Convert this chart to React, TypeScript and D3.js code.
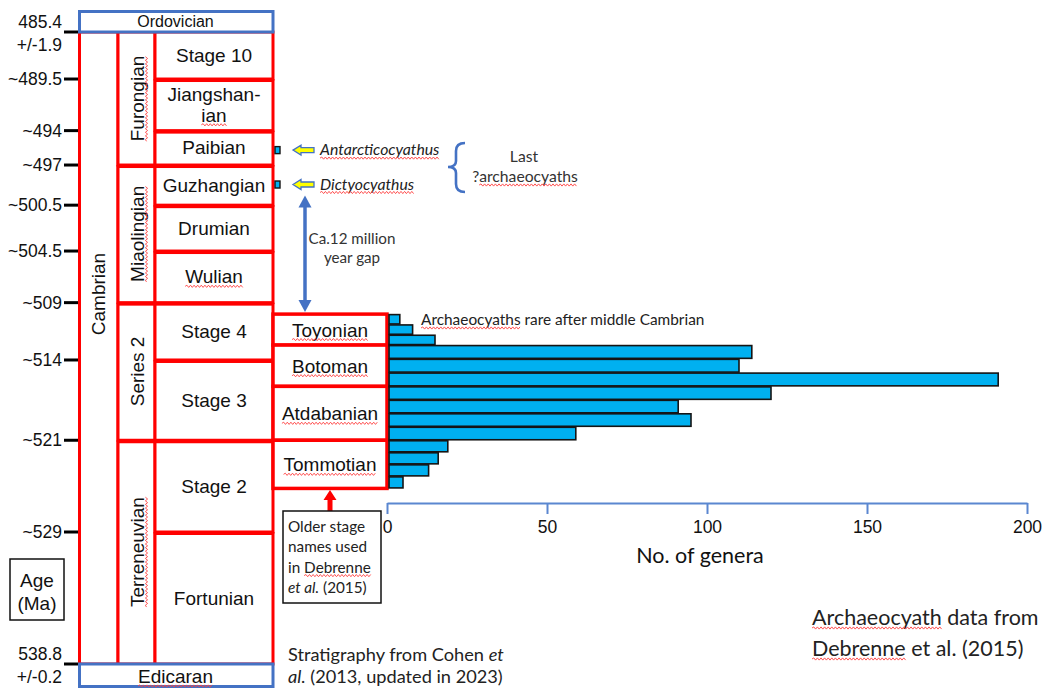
import React, { useEffect, useRef } from "react";
import * as d3 from "d3";

const W = 1045;
const H = 691;

// ---- Chronostratigraphy (ages in Ma) ----
const ageTicks = [485.4, 489.5, 494, 497, 500.5, 504.5, 509, 514, 521, 529, 538.8];
const ageTickLabels = [
  ["485.4", "+/-1.9"], ["~489.5"], ["~494"], ["~497"], ["~500.5"], ["~504.5"],
  ["~509"], ["~514"], ["~521"], ["~529"], ["538.8", "+/-0.2"],
];

const stageNames = ["Stage 10", "Jiangshan-|ian", "Paibian", "Guzhangian", "Drumian", "Wulian", "Stage 4", "Stage 3", "Stage 2", "Fortunian"];
const stageTops = [485.4, 489.5, 494, 497, 500.5, 504.5, 509, 514, 521, 529];
const stageBases = [489.5, 494, 497, 500.5, 504.5, 509, 514, 521, 529, 538.8];
const stageSpell = [false, true, false, false, false, true, false, false, false, false];

const seriesNames = ["Furongian", "Miaolingian", "Series 2", "Terreneuvian"];
const seriesTops = [485.4, 497, 509, 521];
const seriesBases = [497, 509, 521, 538.8];
const seriesSpell = [true, true, false, true];

const systemName = "Cambrian";
const systemTop = 485.4;
const systemBase = 538.8;

// ---- Older stage names (Debrenne et al. 2015) and genera counts ----
const olderStageNames = ["Toyonian", "Botoman", "Atdabanian", "Tommotian"];
const olderStageTops = [510, 512.7, 516.3, 521];
const olderStageBases = [512.7, 516.3, 521, 525.2];
const olderStageBins = [3, 3, 4, 4];
const genera = [4, 8, 15, 114, 110, 191, 120, 91, 95, 59, 19, 16, 13, 5];

// ---- Last occurrences ----
const lastTaxa = ["Antarcticocyathus", "Dictyocyathus"];
const lastTaxaAges = [495.7, 498.7];
const lastTaxaCounts = [1, 1];

const xTicks = [0, 50, 100, 150, 200];

const ARIAL = "'Liberation Sans', Arial, sans-serif";
const CAL = "Lato, 'Open Sans', sans-serif";
const RED = "#FF0000";
const BLUE = "#4472C4";
const BAR = "#00B0F0";

function wavy(g: any, x0: number, x1: number, y: number) {
  const step = 1.8;
  let d = `M${x0},${y}`;
  let up = true;
  for (let x = x0 + step; x <= x1; x += step) {
    d += `L${x.toFixed(1)},${(y + (up ? -1.1 : 1.1)).toFixed(1)}`;
    up = !up;
  }
  g.append("path").attr("d", d).attr("fill", "none").attr("stroke", "#ff4040").attr("stroke-width", 0.9);
}

function squiggle(g: any, textSel: any, from: number, to: number, dy = 3) {
  const node = textSel.node() as SVGTextElement;
  try {
    const s = node.getStartPositionOfChar(from);
    const e = node.getEndPositionOfChar(to - 1);
    wavy(g, s.x, e.x, s.y + dy);
  } catch (err) {
    /* ignore */
  }
}

export default function App() {
  const ref = useRef<SVGSVGElement>(null);

  useEffect(() => {
    const svg = d3.select(ref.current);
    svg.selectAll("*").remove();

    const y = d3.scaleLinear().domain([485.4, 529, 538.8]).range([32, 532, 664]);
    const x = d3.scaleLinear().domain([0, 200]).range([387, 1027]);

    const eonX0 = 78, seriesX0 = 118, stageX0 = 155, stageX1 = 273;
    const olderX1 = x(0);

    const g = svg.append("g");

    // Age ticks and labels
    ageTicks.forEach((a, i) => {
      const yy = y(a);
      g.append("line").attr("x1", 64).attr("x2", eonX0).attr("y1", yy).attr("y2", yy)
        .attr("stroke", "#000").attr("stroke-width", 3);
      const lines = ageTickLabels[i];
      const fs = 17.5;
      if (lines.length === 1) {
        g.append("text").attr("x", 62).attr("y", yy + 6).attr("text-anchor", "end")
          .attr("font-family", ARIAL).attr("font-size", fs).attr("fill", "#111").text(lines[0]);
      } else {
        g.append("text").attr("x", 62).attr("y", yy - 4).attr("text-anchor", "end")
          .attr("font-family", ARIAL).attr("font-size", fs).attr("fill", "#111").text(lines[0]);
        g.append("text").attr("x", 62).attr("y", yy + 19).attr("text-anchor", "end")
          .attr("font-family", ARIAL).attr("font-size", fs).attr("fill", "#111").text(lines[1]);
      }
    });

    // Age (Ma) box
    g.append("rect").attr("x", 10).attr("y", 559).attr("width", 54).attr("height", 61)
      .attr("fill", "none").attr("stroke", "#111").attr("stroke-width", 1.5);
    g.append("text").attr("x", 37).attr("y", 587).attr("text-anchor", "middle")
      .attr("font-family", ARIAL).attr("font-size", 19).attr("fill", "#111").text("Age");
    g.append("text").attr("x", 37).attr("y", 610).attr("text-anchor", "middle")
      .attr("font-family", ARIAL).attr("font-size", 19).attr("fill", "#111").text("(Ma)");

    // System box
    g.append("rect").attr("x", eonX0 + 1.5).attr("y", y(systemTop)).attr("width", seriesX0 - eonX0 - 1.5)
      .attr("height", y(systemBase) - y(systemTop)).attr("fill", "#fff").attr("stroke", RED).attr("stroke-width", 3);
    const sysG = g.append("g").attr("transform", `translate(${(eonX0 + seriesX0) / 2},294) rotate(-90)`);
    sysG.append("text").attr("x", 0).attr("y", 7).attr("text-anchor", "middle")
      .attr("font-family", ARIAL).attr("font-size", 19).attr("fill", "#111").text(systemName);

    // Series boxes
    seriesNames.forEach((nm, i) => {
      const y0 = y(seriesTops[i]), y1 = y(seriesBases[i]);
      g.append("rect").attr("x", seriesX0).attr("y", y0 + (i === 0 ? 0 : 1.5)).attr("width", stageX0 - seriesX0)
        .attr("height", y1 - y0 - (i === 0 ? 0 : 1.5)).attr("fill", "#fff").attr("stroke", RED).attr("stroke-width", 3);
      const sg = g.append("g").attr("transform", `translate(${(seriesX0 + stageX0) / 2},${(y0 + y1) / 2}) rotate(-90)`);
      const t = sg.append("text").attr("x", 0).attr("y", 7).attr("text-anchor", "middle")
        .attr("font-family", ARIAL).attr("font-size", 19).attr("fill", "#111").text(nm);
      if (seriesSpell[i]) squiggle(sg, t, 0, nm.length, 3);
    });

    // Stage boxes
    stageNames.forEach((nm, i) => {
      const y0 = y(stageTops[i]), y1 = y(stageBases[i]);
      g.append("rect").attr("x", stageX0).attr("y", y0 + (i === 0 ? 0 : 1.5)).attr("width", stageX1 - stageX0)
        .attr("height", y1 - y0 - (i === 0 ? 0 : 1.5)).attr("fill", "#fff").attr("stroke", RED).attr("stroke-width", 3);
      const cx = (stageX0 + stageX1) / 2, cy = (y0 + y1) / 2;
      const parts = nm.split("|");
      parts.forEach((p, k) => {
        const off = parts.length === 1 ? 0 : (k === 0 ? -10.5 : 10.5);
        const t = g.append("text").attr("x", cx).attr("y", cy + off + 6.5).attr("text-anchor", "middle")
          .attr("font-family", ARIAL).attr("font-size", 19).attr("fill", "#111").text(p);
        if (stageSpell[i] && (parts.length === 1 || k === parts.length - 1)) squiggle(g, t, 0, p.length, 3);
      });
    });

    // Older stage boxes
    let bin = 0;
    const barG = svg.append("g");
    olderStageNames.forEach((nm, i) => {
      const y0 = y(olderStageTops[i]), y1 = y(olderStageBases[i]);
      g.append("rect").attr("x", stageX1).attr("y", y0).attr("width", olderX1 - stageX1)
        .attr("height", y1 - y0).attr("fill", "#fff").attr("stroke", RED).attr("stroke-width", 3.5);
      const t = g.append("text").attr("x", (stageX1 + olderX1) / 2).attr("y", (y0 + y1) / 2 + 7)
        .attr("text-anchor", "middle").attr("font-family", ARIAL).attr("font-size", 19).attr("fill", "#111").text(nm);
      squiggle(g, t, 0, nm.length, 3);
      const n = olderStageBins[i];
      const h = (y1 - y0) / n;
      for (let j = 0; j < n; j++) {
        const v = genera[bin++];
        barG.append("rect").attr("x", x(0) + 2).attr("y", y0 + j * h + 0.5)
          .attr("width", Math.max(x(v) - x(0) - 2, 1)).attr("height", h - 1)
          .attr("fill", BAR).attr("stroke", "#151515").attr("stroke-width", 1.6);
      }
    });

    // Ordovician & Ediacaran boxes
    g.append("rect").attr("x", eonX0 + 1.5).attr("y", 11.5).attr("width", stageX1 - eonX0 - 1.5)
      .attr("height", y(systemTop) - 11.5).attr("fill", "#fff").attr("stroke", BLUE).attr("stroke-width", 3);
    g.append("text").attr("x", (eonX0 + stageX1) / 2).attr("y", 27).attr("text-anchor", "middle")
      .attr("font-family", ARIAL).attr("font-size", 16).attr("fill", "#111").text("Ordovician");
    g.append("rect").attr("x", eonX0 + 1.5).attr("y", y(systemBase)).attr("width", stageX1 - eonX0 - 1.5)
      .attr("height", 22.5).attr("fill", "#fff").attr("stroke", BLUE).attr("stroke-width", 3);
    const edi = g.append("text").attr("x", (eonX0 + stageX1) / 2).attr("y", y(systemBase) + 19).attr("text-anchor", "middle")
      .attr("font-family", ARIAL).attr("font-size", 19).attr("fill", "#111").text("Edicaran");
    squiggle(g, edi, 0, 8, 3);

    // X axis
    const axG = svg.append("g").attr("transform", "translate(0,503)")
      .call(d3.axisBottom(x).tickValues(xTicks).tickSize(11).tickSizeOuter(0).tickPadding(7) as any);
    axG.select(".domain").attr("stroke", "#5B87D0").attr("stroke-width", 2);
    axG.selectAll(".tick line").attr("stroke", "#5B87D0").attr("stroke-width", 2);
    axG.selectAll(".tick text").attr("font-family", ARIAL).attr("font-size", 17.5).attr("fill", "#111");
    svg.append("text").attr("x", (x(0) + x(200)) / 2 - 7).attr("y", 563).attr("text-anchor", "middle")
      .attr("font-family", CAL).attr("font-size", 21.5).attr("fill", "#111").text("No. of genera");

    // Last occurrences
    const ann = svg.append("g");
    lastTaxa.forEach((nm, i) => {
      const yy = y(lastTaxaAges[i]);
      const w = Math.max(x(lastTaxaCounts[i]) - x(0), 5);
      ann.append("rect").attr("x", stageX1 + 2).attr("y", yy - 3.5).attr("width", w).attr("height", 7)
        .attr("fill", BAR).attr("stroke", "#151515").attr("stroke-width", 1.4);
      const ax0 = 293;
      ann.append("path")
        .attr("d", `M${ax0},${yy} L${ax0 + 8},${yy - 5} L${ax0 + 8},${yy - 2.5} L${ax0 + 21},${yy - 2.5} L${ax0 + 21},${yy + 2.5} L${ax0 + 8},${yy + 2.5} L${ax0 + 8},${yy + 5} Z`)
        .attr("fill", "#FFFF00").attr("stroke", BLUE).attr("stroke-width", 1.3);
      const t = ann.append("text").attr("x", 320).attr("y", yy + 5).attr("font-family", CAL)
        .attr("font-style", "italic").attr("font-size", 15.8).attr("fill", "#222").text(nm);
      squiggle(ann, t, 0, nm.length, 3);
    });

    // Brace
    ann.append("path")
      .attr("d", "M465,143 Q456,143 456,151 L456,161 Q456,167 448,167 Q456,167 456,173 L456,184 Q456,192 465,192")
      .attr("fill", "none").attr("stroke", BLUE).attr("stroke-width", 2.6);
    ann.append("text").attr("x", 524).attr("y", 162).attr("text-anchor", "middle").attr("font-family", CAL)
      .attr("font-size", 15.7).attr("fill", "#333").text("Last");
    const qa = ann.append("text").attr("x", 525).attr("y", 182).attr("text-anchor", "middle").attr("font-family", CAL)
      .attr("font-size", 15.7).attr("fill", "#333").text("?archaeocyaths");
    squiggle(ann, qa, 1, 14, 3);

    // Gap arrow
    const gx = 305, gy0 = y(lastTaxaAges[1]) + 11, gy1 = y(olderStageTops[0]) - 2;
    ann.append("line").attr("x1", gx).attr("x2", gx).attr("y1", gy0 + 10).attr("y2", gy1 - 10)
      .attr("stroke", BLUE).attr("stroke-width", 3.5);
    ann.append("path").attr("d", `M${gx},${gy0} L${gx - 6.5},${gy0 + 12} L${gx + 6.5},${gy0 + 12} Z`).attr("fill", BLUE);
    ann.append("path").attr("d", `M${gx},${gy1} L${gx - 6.5},${gy1 - 12} L${gx + 6.5},${gy1 - 12} Z`).attr("fill", BLUE);
    ann.append("text").attr("x", 352).attr("y", 244).attr("text-anchor", "middle").attr("font-family", CAL)
      .attr("font-size", 15.2).attr("fill", "#333").text("Ca.12 million");
    ann.append("text").attr("x", 352).attr("y", 263).attr("text-anchor", "middle").attr("font-family", CAL)
      .attr("font-size", 15.2).attr("fill", "#333").text("year gap");

    // Rare text
    const rare = ann.append("text").attr("x", 421).attr("y", 325).attr("font-family", CAL)
      .attr("font-size", 15.4).attr("fill", "#222").text("Archaeocyaths rare after middle Cambrian");
    squiggle(ann, rare, 0, 13, 3);

    // Red arrow + older stage note
    const rx = 330;
    ann.append("path")
      .attr("d", `M${rx},490 L${rx + 6.5},500 L${rx + 2.5},500 L${rx + 2.5},511 L${rx - 2.5},511 L${rx - 2.5},500 L${rx - 6.5},500 Z`)
      .attr("fill", RED);
    ann.append("rect").attr("x", 283).attr("y", 511).attr("width", 98).attr("height", 92)
      .attr("fill", "#fff").attr("stroke", "#111").attr("stroke-width", 1.5);
    const noteLines = ["Older stage", "names used", "in Debrenne"];
    noteLines.forEach((l, k) => {
      const t = ann.append("text").attr("x", 288).attr("y", 532 + k * 20.3).attr("font-family", CAL)
        .attr("font-size", 15.3).attr("fill", "#222").text(l);
      if (k === 2) squiggle(ann, t, 3, 11, 3);
    });
    const l4 = ann.append("text").attr("x", 288).attr("y", 593).attr("font-family", CAL)
      .attr("font-size", 15.3).attr("fill", "#222");
    l4.append("tspan").attr("font-style", "italic").text("et al.");
    l4.append("tspan").text(" (2015)");

    // Source notes
    const s1 = ann.append("text").attr("x", 288).attr("y", 661).attr("font-family", CAL)
      .attr("font-size", 18.2).attr("fill", "#222");
    s1.append("tspan").text("Stratigraphy from Cohen ");
    s1.append("tspan").attr("font-style", "italic").text("et");
    const s2 = ann.append("text").attr("x", 288).attr("y", 683).attr("font-family", CAL)
      .attr("font-size", 18.2).attr("fill", "#222");
    s2.append("tspan").attr("font-style", "italic").text("al.");
    s2.append("tspan").text(" (2013, updated in 2023)");

    const d1 = ann.append("text").attr("x", 812).attr("y", 625).attr("font-family", CAL)
      .attr("font-size", 21.5).attr("fill", "#222").text("Archaeocyath data from");
    squiggle(ann, d1, 0, 12, 3);
    const d2 = ann.append("text").attr("x", 812).attr("y", 656).attr("font-family", CAL)
      .attr("font-size", 21.5).attr("fill", "#222").text("Debrenne et al. (2015)");
    squiggle(ann, d2, 0, 8, 3);
  }, []);

  return (
    <svg
      ref={ref}
      width={W}
      height={H}
      style={{ position: "absolute", left: 0, top: 0, background: "#fff", display: "block" }}
    />
  );
}
